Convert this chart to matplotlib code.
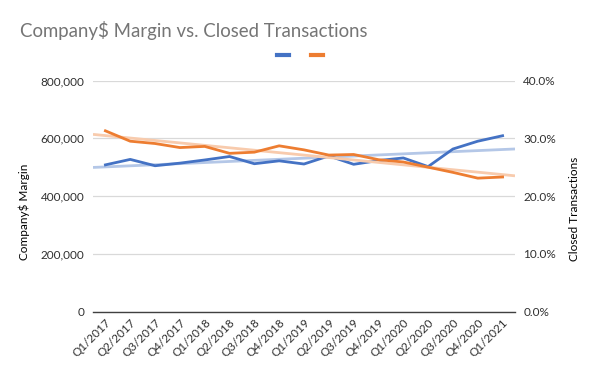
import matplotlib
matplotlib.use("Agg")
import matplotlib.pyplot as plt
import numpy as np
from matplotlib.lines import Line2D
from matplotlib.ticker import FuncFormatter

plt.rcParams['font.family'] = ['Lato', 'DejaVu Sans']

quarters = ["Q1/2017", "Q2/2017", "Q3/2017", "Q4/2017", "Q1/2018", "Q2/2018",
            "Q3/2018", "Q4/2018", "Q1/2019", "Q2/2019", "Q3/2019", "Q4/2019",
            "Q1/2020", "Q2/2020", "Q3/2020", "Q4/2020", "Q1/2021"]
margin = [508000, 527000, 505000, 514000, 525000, 537000, 512000, 522000, 511000,
          539000, 510000, 523000, 532000, 502000, 563000, 590000, 609000]
closed_pct = [31.3, 29.5, 29.1, 28.4, 28.6, 27.4, 27.6, 28.7, 28.0, 27.1, 27.2,
              26.3, 25.9, 25.0, 24.1, 23.1, 23.3]

blue = "#4472C4"
orange = "#ED7D31"
blue_t = "#B4C7E7"
orange_t = "#F8CBAD"
txt = "#303030"

fig = plt.figure(figsize=(6.0, 3.71), dpi=100)
ax = fig.add_axes([93/600, 1-311.5/371, (515-93)/600, (311.5-80.6)/371])
ax2 = ax.twinx()

x = np.arange(len(quarters))
xt = np.array([-0.5, len(quarters) - 0.5])

# trendlines
cb = np.polyfit(x, margin, 1)
co = np.polyfit(x, closed_pct, 1)
ax.plot(xt, np.polyval(cb, xt), color=blue_t, lw=2, solid_capstyle='butt', zorder=2)
ax2.plot(xt, np.polyval(co, xt), color=orange_t, lw=2, solid_capstyle='butt', zorder=2)

ax.plot(x, margin, color=blue, lw=2, zorder=3)
ax2.plot(x, closed_pct, color=orange, lw=2, zorder=3)

ax.set_xlim(-0.5, len(quarters) - 0.5)
ax.set_ylim(0, 800000)
ax2.set_ylim(0, 40)
ax.set_yticks(np.arange(0, 800001, 200000))
ax2.set_yticks(np.arange(0, 40.1, 10))
ax.yaxis.set_major_formatter(FuncFormatter(lambda v, p: f"{int(v):,}"))
ax2.yaxis.set_major_formatter(FuncFormatter(lambda v, p: f"{v:.1f}%"))

ax.set_xticks(x)
ax.set_xticklabels(quarters, rotation=45, ha='right', rotation_mode='anchor')

ax.grid(axis='y', color='#D9D9D9', lw=0.9)
ax.set_axisbelow(True)
for a in (ax, ax2):
    for s in a.spines.values():
        s.set_visible(False)
    a.tick_params(length=0, labelsize=8.5, labelcolor=txt)
ax.spines['bottom'].set_visible(True)
ax.spines['bottom'].set_color('#404040')
ax.spines['bottom'].set_linewidth(1)
ax.tick_params(axis='y', pad=6)
ax2.tick_params(axis='y', pad=6)
ax.tick_params(axis='x', pad=4)

fig.text(20/600, 1-30/371, "Company$ Margin vs. Closed Transactions", fontsize=13.4,
         color="#757575", ha='left', va='center')
fig.text(24/600, 1-212/371, "Company$ Margin", rotation=90, fontsize=8.5,
         color='black', ha='center', va='center')
fig.text(575/600, 1-209/371, "Closed Transactions", rotation=90, fontsize=8.5,
         color='black', ha='center', va='center')

handles = [Line2D([0], [0], color=blue, lw=3), Line2D([0], [0], color=orange, lw=3)]
fig.legend(handles, ["", ""], loc='center', bbox_to_anchor=(300/600, 1-56/371),
           ncol=2, frameon=False, handlelength=0.85, columnspacing=1.6, handletextpad=0.0)

fig.savefig("out.png", dpi=100)
